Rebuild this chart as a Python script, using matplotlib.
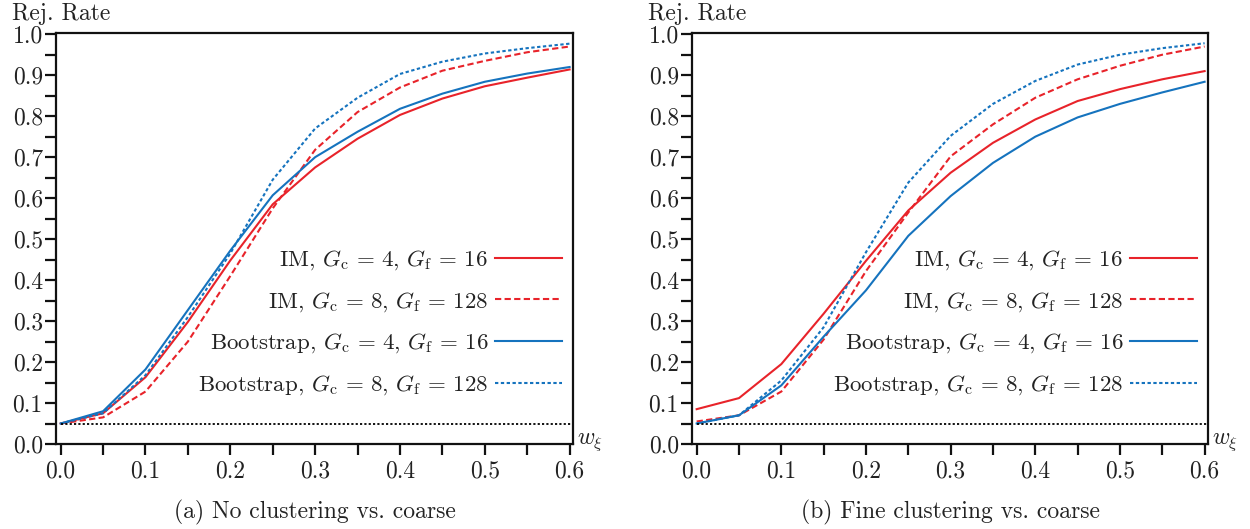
import numpy as np
import matplotlib
matplotlib.use("Agg")
import matplotlib.pyplot as plt
from matplotlib.ticker import MultipleLocator, FormatStrFormatter

plt.rcParams.update({
    "font.family": ["cmr10", "DejaVu Serif"],
    "mathtext.fontset": "cm",
    "axes.formatter.use_mathtext": True,
    "font.size": 17,
    "text.color": "#222222",
})

# weight grid
w_xi = [0.0, 0.05, 0.10, 0.15, 0.20, 0.25, 0.30, 0.35, 0.40, 0.45, 0.50, 0.55, 0.60]
nominal_level = 0.05

# (a) No clustering vs. coarse
a_im_4_16 = [0.050, 0.075, 0.163, 0.298, 0.448, 0.585, 0.675, 0.745, 0.803, 0.843, 0.873, 0.894, 0.914]
a_im_8_128 = [0.050, 0.065, 0.128, 0.250, 0.410, 0.575, 0.718, 0.810, 0.870, 0.911, 0.935, 0.956, 0.970]
a_bs_4_16 = [0.050, 0.080, 0.182, 0.327, 0.472, 0.607, 0.700, 0.762, 0.818, 0.855, 0.884, 0.904, 0.920]
a_bs_8_128 = [0.050, 0.075, 0.168, 0.310, 0.465, 0.645, 0.770, 0.845, 0.903, 0.933, 0.953, 0.966, 0.977]

# (b) Fine clustering vs. coarse
b_im_4_16 = [0.085, 0.112, 0.195, 0.318, 0.447, 0.570, 0.662, 0.735, 0.792, 0.837, 0.866, 0.890, 0.910]
b_im_8_128 = [0.055, 0.070, 0.128, 0.255, 0.422, 0.565, 0.702, 0.780, 0.845, 0.890, 0.923, 0.950, 0.970]
b_bs_4_16 = [0.050, 0.070, 0.143, 0.262, 0.375, 0.508, 0.605, 0.686, 0.750, 0.797, 0.830, 0.858, 0.884]
b_bs_8_128 = [0.050, 0.070, 0.155, 0.285, 0.468, 0.638, 0.752, 0.830, 0.886, 0.926, 0.950, 0.966, 0.978]

series_labels = [
    r"IM, $G_\mathrm{c}\,=\,4$, $G_\mathrm{f}\,=\,16$",
    r"IM, $G_\mathrm{c}\,=\,8$, $G_\mathrm{f}\,=\,128$",
    r"Bootstrap, $G_\mathrm{c}\,=\,4$, $G_\mathrm{f}\,=\,16$",
    r"Bootstrap, $G_\mathrm{c}\,=\,8$, $G_\mathrm{f}\,=\,128$",
]
captions = ["(a) No clustering vs. coarse", "(b) Fine clustering vs. coarse"]

RED = "#E8232A"
BLUE = "#1573BE"
styles = [
    dict(color=RED, ls="-"),
    dict(color=RED, ls=(0, (3.0, 1.6))),
    dict(color=BLUE, ls="-"),
    dict(color=BLUE, ls=(0, (1.6, 1.2))),
]

fig = plt.figure(figsize=(12.5, 5.29), dpi=100)
W, H = 1250, 529
boxes = [(56, 33, 573, 444), (692, 33, 1208, 444)]
panels = [
    [a_im_4_16, a_im_8_128, a_bs_4_16, a_bs_8_128],
    [b_im_4_16, b_im_8_128, b_bs_4_16, b_bs_8_128],
]

for (x0, y0, x1, y1), data, cap in zip(boxes, panels, captions):
    ax = fig.add_axes([x0 / W, 1 - y1 / H, (x1 - x0) / W, (y1 - y0) / H])
    for vals, st, lab in zip(data, styles, series_labels):
        ax.plot(w_xi, vals, lw=1.5, label=lab, **st)
    ax.hlines(nominal_level, w_xi[0], 0.604, colors="black", lw=1.3,
              linestyles=(0, (1.2, 1.2)))
    ax.set_xlim(-0.0055, 0.604)
    ax.set_ylim(0.0, 1.003)
    ax.xaxis.set_major_locator(MultipleLocator(0.1))
    ax.xaxis.set_minor_locator(MultipleLocator(0.05))
    ax.yaxis.set_major_locator(MultipleLocator(0.1))
    ax.yaxis.set_minor_locator(MultipleLocator(0.05))
    ax.xaxis.set_major_formatter(FormatStrFormatter("%.1f"))
    ax.yaxis.set_major_formatter(FormatStrFormatter("%.1f"))
    for s in ax.spines.values():
        s.set_linewidth(1.6)
        s.set_color("#111111")
    ax.tick_params(which="both", direction="out", length=8, width=1.6,
                   color="#111111", labelcolor="#222222")
    ax.tick_params(axis="x", which="both", pad=4)
    ax.tick_params(axis="y", which="both", pad=1.5)
    ax.legend(loc="center right", bbox_to_anchor=(1.0, 0.295), frameon=False,
              markerfirst=False, handlelength=2.9, handletextpad=0.3,
              labelspacing=0.78, borderaxespad=0.5, borderpad=0.0,
              fontsize=16.5)
    ax.annotate(r"$w_\xi$", xy=(1.0, 0.0), xycoords="axes fraction",
                xytext=(3, 0), textcoords="offset points",
                ha="left", va="baseline")
    fig.text((x0 - 44) / W, 1 - 20 / H, "Rej. Rate", ha="left", va="baseline")
    fig.text((x0 + x1) / 2 / W, 1 - 512 / H, cap, ha="center", va="center")

fig.savefig("out.png", dpi=100)
